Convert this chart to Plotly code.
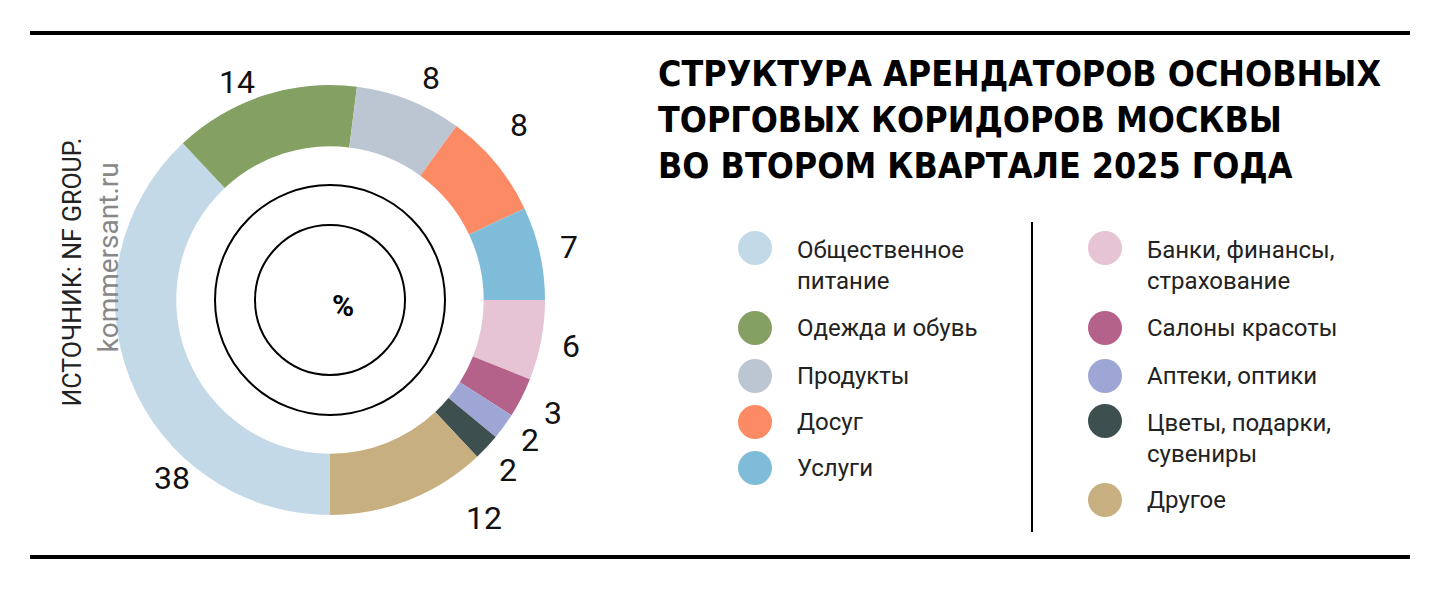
import math
import plotly.graph_objects as go

categories = ["Общественное<br>питание", "Одежда и обувь", "Продукты", "Досуг", "Услуги",
              "Банки, финансы,<br>страхование", "Салоны красоты", "Аптеки, оптики",
              "Цветы, подарки,<br>сувениры", "Другое"]
values = [38, 14, 8, 8, 7, 6, 3, 2, 2, 12]
colors = ["#c3d9e8", "#84a062", "#bcc6d2", "#fc8a64", "#7fbcd9",
          "#e6c4d3", "#b5628b", "#9ea6d6", "#3e4f50", "#c8af80"]

OFF = 8
W, H = 1440 - 2 * OFF, 591 - 2 * OFF
cx, cy, R = 330, 300, 215

def px(x): return (x - OFF) / W
def py(y): return 1 - (y - OFF) / H

fig = go.Figure(go.Pie(
    values=values, labels=categories, marker=dict(colors=colors, line=dict(width=0)),
    hole=0.715, rotation=180, direction="clockwise", sort=False,
    textinfo="none", hoverinfo="skip", showlegend=False,
    domain=dict(x=[px(cx - R), px(cx + R)], y=[py(cy + R), py(cy - R)]),
))

ann = []
shapes = []
total = sum(values)
cum = 0
offsets = {0: (50, 88), 1: (-37, 15), 2: (0, 6), 3: (0, -19), 7: (-2, -7), 8: (-4, -1), 9: (44, -10)}
for i, v in enumerate(values):
    mid = 180 + (cum + v / 2) / total * 360
    cum += v
    r = 245 if v > 3 else 250
    x = cx + r * math.sin(math.radians(mid))
    y = cy - r * math.cos(math.radians(mid))
    dx, dy = offsets.get(i, (0, 0))
    ann.append(dict(x=px(x + dx), y=py(y + dy), xref="paper", yref="paper", yanchor="middle",
                    text=str(v), showarrow=False,
                    font=dict(size=32, family="Roboto", color="#111")))

for r in (115, 75):
    shapes.append(dict(type="circle", xref="paper", yref="paper",
                       x0=px(cx - r), x1=px(cx + r), y0=py(cy + r), y1=py(cy - r),
                       line=dict(color="black", width=2)))
ann.append(dict(x=px(cx), y=py(cy + 5), xref="paper", yref="paper", yanchor="middle",
                text="<b>%</b>", showarrow=False,
                font=dict(size=30, family="Roboto", color="black")))

for y in (33, 557):
    shapes.append(dict(type="line", xref="paper", yref="paper", x0=px(30), x1=px(1410),
                       y0=py(y), y1=py(y), line=dict(color="black", width=4)))
shapes.append(dict(type="line", xref="paper", yref="paper", x0=px(1032), x1=px(1032),
                   y0=py(222), y1=py(532), line=dict(color="black", width=2)))

ann.append(dict(x=px(656), y=py(120), xref="paper", yref="paper", xanchor="left", yanchor="middle",
                text="<b>СТРУКТУРА АРЕНДАТОРОВ ОСНОВНЫХ<br>ТОРГОВЫХ КОРИДОРОВ МОСКВЫ<br>ВО ВТОРОМ КВАРТАЛЕ 2025 ГОДА</b>",
                align="left", showarrow=False,
                font=dict(size=35.5, family="DejaVu Sans Condensed", color="black")))

ann.append(dict(x=px(56), y=py(272), xref="paper", yref="paper", textangle=-90, yanchor="middle",
                text="ИСТОЧНИК: NF GROUP.", showarrow=False,
                font=dict(size=25, family="Roboto", color="#222")))
ann.append(dict(x=px(90), y=py(258), xref="paper", yref="paper", textangle=-90, yanchor="middle",
                text="kommersant.ru", showarrow=False,
                font=dict(size=28, family="Roboto", color="#888")))

rows_left = [265, 328, 376, 422, 468]
rows_right = [265, 328, 376, 438, 500]
for i, (cat, col) in enumerate(zip(categories, colors)):
    if i < 5:
        xc, y = 755, rows_left[i]
    else:
        xc, y = 1105, rows_right[i - 5]
    two = "<br>" in cat
    cy_c = y - 17 if two else y
    shapes.append(dict(type="circle", xref="paper", yref="paper", x0=px(xc - 17), x1=px(xc + 17),
                       y0=py(cy_c + 17), y1=py(cy_c - 17), fillcolor=col, line=dict(width=0)))
    ann.append(dict(x=px(xc + 40), y=py(y), xref="paper", yref="paper", xanchor="left",
                    yanchor="middle", text=cat, align="left", showarrow=False,
                    font=dict(size=24, family="Roboto", color="#222")))

fig.update_layout(width=W, height=H, margin=dict(l=0, r=0, t=0, b=0),
                  paper_bgcolor="white", plot_bgcolor="white",
                  annotations=ann, shapes=shapes)
fig.write_html("out.html")
